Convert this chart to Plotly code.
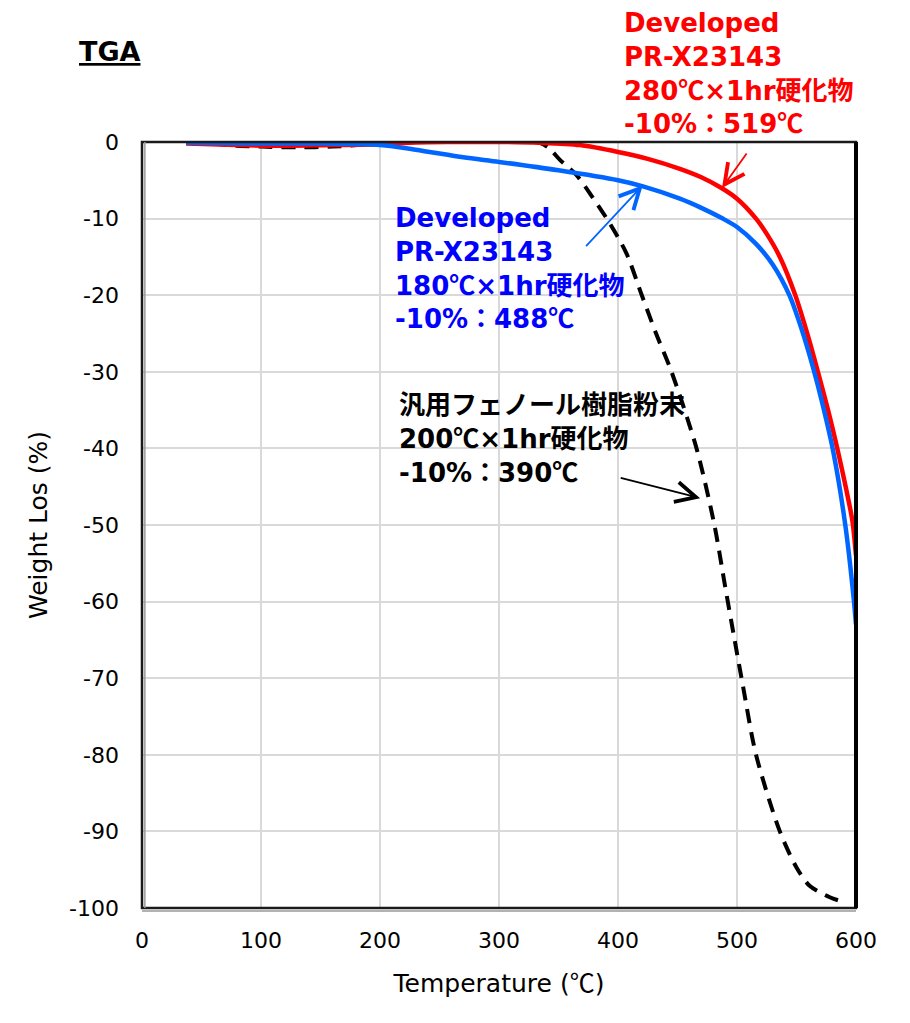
import plotly.graph_objects as go

# TGA curves (temperature in C, weight change in %)
temp_280 = [37, 80, 120, 160, 200, 230, 260, 300, 334, 368, 400, 425, 452, 470, 487, 500,
            516, 525, 536, 549, 560, 568, 577, 585, 592, 597, 600]
wt_280 = [-0.2, -0.4, -0.5, -0.4, -0.3, -0.05, 0.0, 0.0, -0.1, -0.4, -1.3, -2.2, -3.5, -4.6, -6.0, -7.4,
          -10.0, -12.0, -15.0, -20.0, -25.5, -30.0, -35.3, -40.5, -45.5, -49.5, -54.0]

temp_180 = [37, 100, 150, 200, 230, 270, 300, 350, 400, 421, 452, 470, 488, 500, 516, 530,
            544, 554, 564, 572, 581, 591, 598, 600]
wt_180 = [-0.1, -0.2, -0.2, -0.4, -1.0, -2.0, -2.6, -3.7, -5.0, -5.8, -7.4, -8.6, -10.0, -11.1, -13.3, -16.0,
          -20.0, -24.3, -29.5, -34.3, -40.5, -50.0, -59.5, -63.0]

temp_phenol = [40, 60, 80, 100, 130, 160, 190, 210, 250, 300, 334, 342, 351, 365, 379, 393, 407, 420,
               432, 445, 466, 481, 490, 498, 505, 516, 536, 550, 561, 578, 585]
wt_phenol = [0.0, -0.2, -0.5, -0.6, -0.7, -0.6, -0.3, 0.0, 0.0, 0.0, -0.1, -0.8, -2.3, -4.3, -7.3, -10.6, -14.5, -20.0,
             -25.0, -30.0, -40.0, -50.0, -58.0, -65.0, -71.0, -80.0, -90.0, -94.7, -97.1, -98.6, -99.0]

x_ticks = [0, 100, 200, 300, 400, 500, 600]
y_ticks = [0, -10, -20, -30, -40, -50, -60, -70, -80, -90, -100]
y_ticktext = ['0', '-10', '-20', '-30', '-40', '-50', '-60', '-70', '-80', '-90', '-100']

label_280 = ["Developed", "PR-X23143", "280℃×1hr硬化物", "-10%：519℃"]
label_180 = ["Developed", "PR-X23143", "180℃×1hr硬化物", "-10%：488℃"]
label_phenol = ["汎用フェノール樹脂粉末", "200℃×1hr硬化物", "-10%：390℃"]

FONT = "Verdana, DejaVu Sans, Noto Sans CJK JP, sans-serif"
CJK = "Noto Sans CJK JP"


def degc(s):
    # DejaVu draws ℃ as a narrow °C, use the CJK glyph instead
    return s.replace("℃", f'<span style="font-family:{CJK}">℃</span>')


fig = go.Figure()
fig.add_trace(go.Scatter(x=temp_phenol, y=wt_phenol, mode='lines', name='phenol',
                         line=dict(color='black', width=4, dash='14px,9px', shape='spline', smoothing=0.8)))
fig.add_trace(go.Scatter(x=temp_280, y=wt_280, mode='lines', name='280',
                         line=dict(color='#ff0000', width=4.5, shape='spline', smoothing=0.8)))
fig.add_trace(go.Scatter(x=temp_180, y=wt_180, mode='lines', name='180',
                         line=dict(color='#0066ff', width=4.5, shape='spline', smoothing=0.8)))

fig.update_xaxes(range=[0, 600], tickvals=x_ticks, showgrid=True, gridcolor='#d9d9d9', gridwidth=1.5,
                 zeroline=False, showline=False, ticks='', ticklabelstandoff=17,
                 tickfont=dict(family=FONT, size=22, color='black'),
                 title=dict(text=degc('Temperature (℃)'), font=dict(family=FONT, size=25, color='black'), standoff=22))
fig.update_yaxes(range=[-100, 0], tickvals=y_ticks, ticktext=y_ticktext, showgrid=True, gridcolor='#d9d9d9',
                 gridwidth=1.5, zeroline=False, showline=False, ticks='', ticklabelstandoff=22,
                 tickfont=dict(family=FONT, size=22, color='black'),
                 title=dict(text='Weight Los (%)', font=dict(family=FONT, size=25, color='black'), standoff=14))

# frame round the plot area
fig.add_shape(type='rect', xref='paper', yref='paper', x0=0, x1=1, y0=0, y1=1,
              line=dict(color='#1a1a1a', width=2.5), layer='above')
fig.add_shape(type='line', xref='paper', yref='paper', x0=1, x1=1, y0=0, y1=1,
              line=dict(color='black', width=4), layer='above')
fig.add_shape(type='line', xref='paper', yref='paper', x0=0.004, x1=0.004, y0=0, y1=1,
              line=dict(color='#999999', width=1.5), layer='above')
fig.add_shape(type='line', xref='paper', yref='paper', x0=0, x1=1, y0=-0.004, y1=-0.004,
              line=dict(color='#999999', width=1.5), layer='above')


def block(lines, x, y, color, size):
    fig.add_annotation(x=x, y=y, xref='paper', yref='paper', text='<br>'.join(degc(s) for s in lines),
                       showarrow=False, xanchor='left', yanchor='middle', align='left', borderpad=0,
                       font=dict(family=FONT, size=size, color=color, weight='bold'))


block(label_280, 0.673, 1.0885, '#ff0000', 26)
block(label_180, 0.353, 0.834, '#0000ff', 26)
block(label_phenol, 0.3585, 0.611, 'black', 26)

fig.add_annotation(x=-0.091, y=1.1175, xref='paper', yref='paper', text='<u>TGA</u>', showarrow=False,
                   xanchor='left', yanchor='middle', font=dict(family=FONT, size=27, color='black', weight='bold'))

# arrows from the labels to the curves
arrows = [((487.4, -6.0), (509, -1.3), '#ff0000'),
          ((420.8, -5.65), (372, -13.8), '#0066ff'),
          ((469, -46.5), (401, -43.8), 'black')]
for (tx, ty), (ax, ay), col in arrows:
    fig.add_annotation(x=tx, y=ty, ax=ax, ay=ay, xref='x', yref='y', axref='x', ayref='y', text='',
                       showarrow=True, arrowhead=5, arrowsize=2.2, arrowwidth=1.8, arrowcolor=col)

fig.update_layout(width=894, height=1000, margin=dict(l=134, r=46, t=134, b=100),
                  plot_bgcolor='white', paper_bgcolor='white', showlegend=False,
                  font=dict(family=FONT, color='black'))

fig.write_html("out.html")
